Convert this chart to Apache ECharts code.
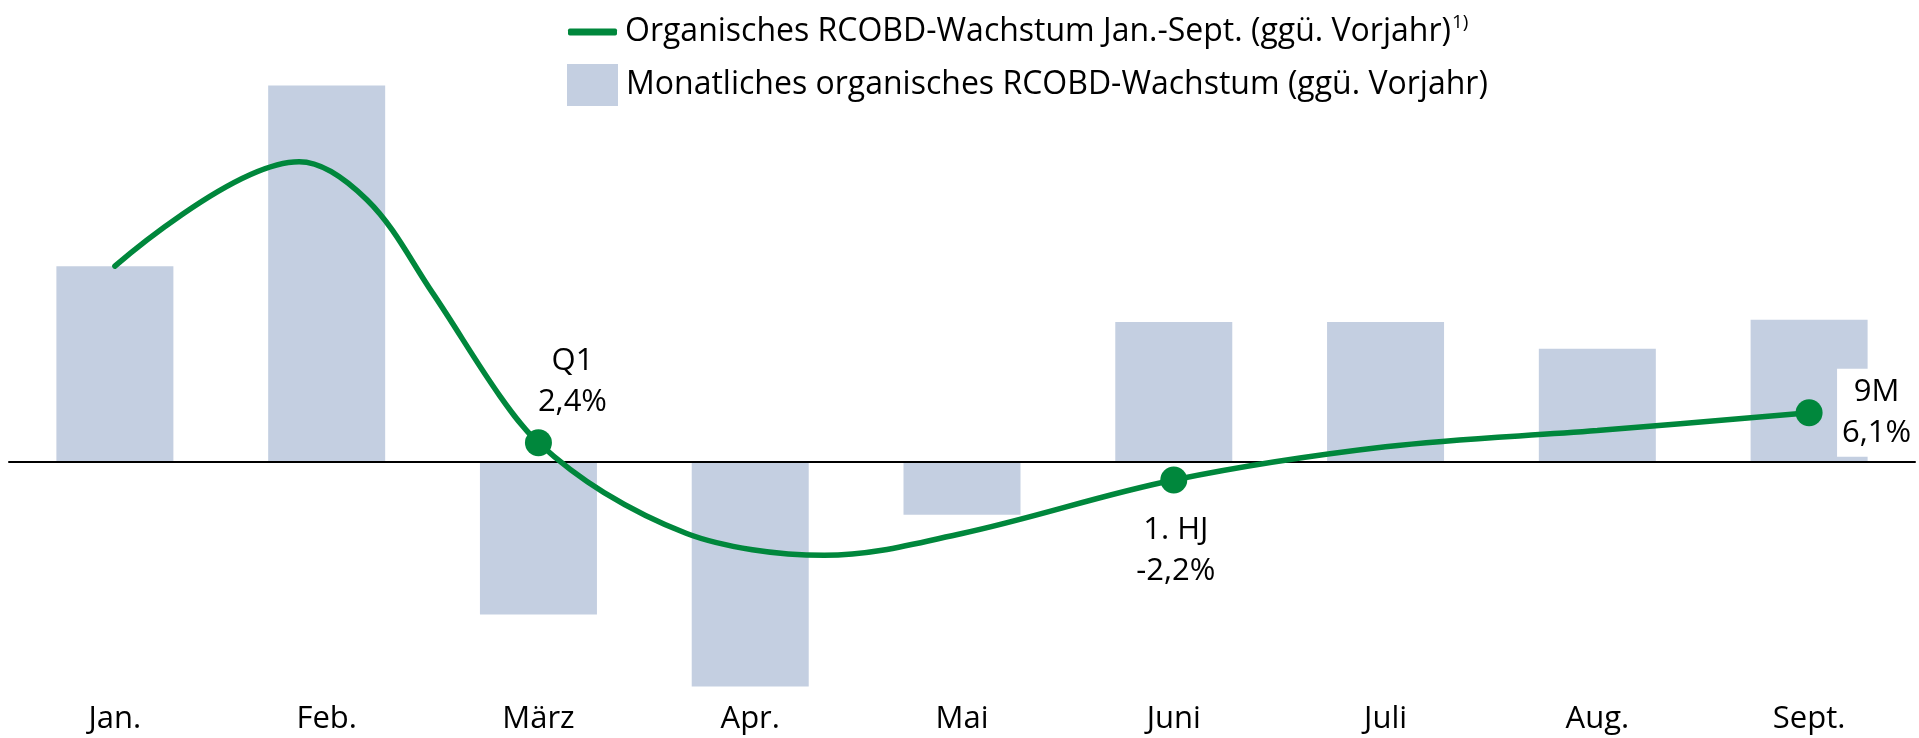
<!DOCTYPE html>
<html>
<head>
<meta charset="utf-8">
<script src="https://cdn.jsdelivr.net/npm/echarts@6/dist/echarts.min.js"></script>
<style>
  html, body { margin: 0; padding: 0; background: #fff; }
  #chart { width: 1919px; height: 738px; }
</style>
</head>
<body>
<div id="chart"></div>
<script>
// Monate
const months = ["Jan.", "Feb.", "März", "Apr.", "Mai", "Juni", "Juli", "Aug.", "Sept."];
// Monatliches Wachstum (Balken), gleiche Skala wie die Linie
const monthlyGrowth = [24.2, 46.5, -18.8, -27.7, -6.5, 17.3, 17.3, 14.0, 17.6];
// kumuliertes Wachstum (Linie): Position in Monaten (0 = Jan.) und Wert, aus dem Bild gelesen
const linePos = [0, 0.87, 1.19, 1.5, 1.82, 2, 2.31, 2.7, 3.01, 3.35, 4, 5, 6, 7, 8];
const lineValues = [24.2, 37.1, 32.4, 20.9, 8.1, 2.4, -3.75, -8.8, -10.8, -11.5, -8.8, -2.2, 1.9, 3.9, 6.1];
// Beschriftete Punkte
const markerNames = ["", "", "", "", "", "Q1", "", "", "", "", "", "1. HJ", "", "", "9M"];

const lineName = "Organisches RCOBD-Wachstum Jan.-Sept. (ggü. Vorjahr)";
const barName = "Monatliches organisches RCOBD-Wachstum (ggü. Vorjahr)";

const green = "#00873c";
const barColor = "#c4cfe1";
const font = "Open Sans";

const chart = echarts.init(document.getElementById("chart"));

// Lage der Punktbeschriftungen
const labelPlace = {
  "Q1": { position: "top", distance: 7, offset: [34, 0] },
  "1. HJ": { position: "bottom", distance: 16, offset: [2, 0] },
  "9M": { position: "right", distance: 14, offset: [40, 0], backgroundColor: "#fff", padding: [3, 5, 3, 5] }
};

const lineData = linePos.map((x, i) => {
  const v = lineValues[i];
  const name = markerNames[i];
  if (!name) {
    return { value: [x, v], symbolSize: 0, label: { show: false } };
  }
  return {
    value: [x, v],
    symbolSize: 27,
    label: Object.assign({
      show: true,
      color: "#000",
      fontSize: 31,
      fontFamily: font,
      lineHeight: 41,
      align: "center",
      formatter: () => name + "\n" + v.toFixed(1).replace(".", ",") + "%"
    }, labelPlace[name])
  };
});

const option = {
  animation: false,
  textStyle: { fontFamily: font },
  grid: { left: 9, right: 4, top: 41, bottom: 49 },
  legend: [
    {
      data: [{ name: lineName, icon: "roundRect" }],
      left: 563,
      top: 8,
      itemWidth: 49,
      itemHeight: 7,
      selectedMode: false,
      formatter: name => name + "{sup|1)}",
      textStyle: {
        fontSize: 32,
        color: "#000",
        fontFamily: font,
        lineHeight: 38,
        padding: [0, 0, 0, 3],
        rich: {
          sup: { fontSize: 19, fontFamily: font, color: "#000", verticalAlign: "top", lineHeight: 20, padding: [0, 0, 0, 1] }
        }
      }
    },
    {
      data: [{ name: barName, icon: "rect" }],
      left: 562,
      top: 59,
      itemWidth: 51,
      itemHeight: 42,
      selectedMode: false,
      textStyle: {
        fontSize: 32,
        color: "#000",
        fontFamily: font,
        padding: [0, 0, 0, 3]
      }
    }
  ],
  xAxis: [
    {
      type: "category",
      data: months,
      position: "bottom",
      axisLine: { show: false, onZero: false },
      axisTick: { show: false },
      axisLabel: { fontSize: 31, color: "#000", fontFamily: font, margin: 15 }
    },
    {
      // Nulllinie
      type: "category",
      data: months,
      position: "top",
      z: 5,
      axisLine: { onZero: true, onZeroAxisIndex: 0, lineStyle: { color: "#000", width: 2 } },
      axisTick: { show: false },
      axisLabel: { show: false }
    },
    {
      // Monatsposition für die Linie
      type: "value",
      min: -0.5,
      max: 8.5,
      show: false,
      axisLine: { onZero: false }
    }
  ],
  yAxis: {
    type: "value",
    min: -28,
    max: 52,
    axisLine: { show: false, onZero: false },
    axisTick: { show: false },
    axisLabel: { show: false },
    splitLine: { show: false }
  },
  series: [
    {
      name: barName,
      type: "bar",
      data: monthlyGrowth,
      barWidth: 117,
      itemStyle: { color: barColor },
      z: 2
    },
    {
      name: lineName,
      type: "line",
      xAxisIndex: 2,
      data: lineData,
      smooth: 0.35,
      symbol: "circle",
      showSymbol: true,
      lineStyle: { color: green, width: 5.5, cap: "round" },
      itemStyle: { color: green },
      z: 10
    }
  ]
};

chart.setOption(option);
</script>
</body>
</html>
